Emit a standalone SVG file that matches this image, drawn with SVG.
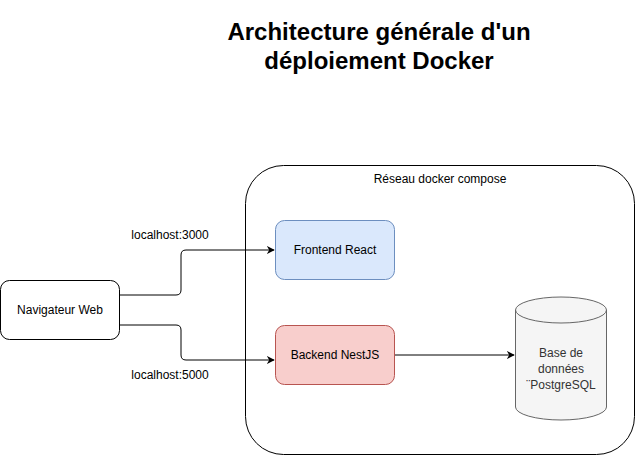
<svg xmlns="http://www.w3.org/2000/svg" width="636" height="456" viewBox="0 0 636 456">
<defs>
<style>
text{font-family:"Liberation Sans",Arial,sans-serif;font-size:12px;fill:#000;text-anchor:middle}
.title{font-size:24px;font-weight:bold}
.edge{fill:none;stroke:#000;stroke-width:1}
.db{fill:#333333}
</style>
<marker id="arr" viewBox="0 0 10 10" refX="9" refY="5" markerWidth="8" markerHeight="8" markerUnits="userSpaceOnUse" orient="auto">
<path d="M0,0 L10,5 L0,10 L3,5 Z" fill="#000"/>
</marker>
</defs>
<rect width="636" height="456" fill="#fff"/>
<g id="title">
<text class="title" x="379" y="40">Architecture générale d'un</text>
<text class="title" x="379" y="69">déploiement Docker</text>
</g>
<g id="reseau">
<rect x="245.5" y="165.5" width="389" height="289" rx="38" ry="38" fill="#fff" stroke="#000"/>
<text x="440" y="183">Réseau docker compose</text>
</g>
<g id="connectors">
<path class="edge" d="M120,295 H176 Q181,295 181,290 V255 Q181,250 186,250 H274" marker-end="url(#arr)"/>
<path class="edge" d="M120,325 H176 Q181,325 181,330 V355 Q181,360 186,360 H274" marker-end="url(#arr)"/>
<path class="edge" d="M395,355 H514" marker-end="url(#arr)"/>
<text x="170" y="239">localhost:3000</text>
<text x="170" y="379">localhost:5000</text>
</g>
<g id="navigateur">
<rect x="0.5" y="280.5" width="119" height="59" rx="9" fill="#fff" stroke="#000"/>
<text x="60" y="314">Navigateur Web</text>
</g>
<g id="frontend">
<rect x="275.5" y="220.5" width="119" height="59" rx="9" fill="#dae8fc" stroke="#6c8ebf"/>
<text x="335" y="254">Frontend React</text>
</g>
<g id="backend">
<rect x="275.5" y="325.5" width="119" height="59" rx="9" fill="#f8cecc" stroke="#b85450"/>
<text x="335" y="359">Backend NestJS</text>
</g>
<g id="database">
<path d="M515.5,310 A45.5,13 0 0 1 606.5,310 V407 A45.5,13 0 0 1 515.5,407 Z" fill="#f5f5f5" stroke="#666666"/>
<path d="M515.5,310 A45.5,13 0 0 0 606.5,310" fill="none" stroke="#666666"/>
<text class="db" x="561" y="357">Base de</text>
<text class="db" x="561" y="373">données</text>
<text class="db" x="561" y="389">¨PostgreSQL</text>
</g>
</svg>
